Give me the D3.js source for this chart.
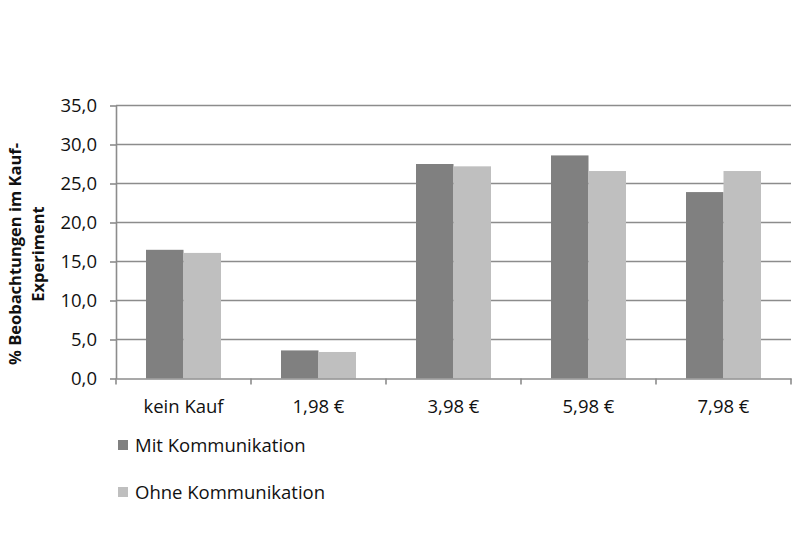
<!DOCTYPE html>
<html>
<head>
<meta charset="utf-8">
<script src="https://cdn.jsdelivr.net/npm/d3@7"></script>
<style>
  body { margin: 0; background: #fff; }
  svg text { font-family: "Open Sans", Lato, sans-serif; fill: #111; }
</style>
</head>
<body>
<div id="chart"></div>
<script>
(function () {
	// chart data
	var categories = ['kein Kauf', '1,98 €', '3,98 €', '5,98 €', '7,98 €'];
	var seriesNames = ['Mit Kommunikation', 'Ohne Kommunikation'];
	var mitValues = [16.5, 3.6, 27.5, 28.6, 23.9];
	var ohneValues = [16.1, 3.4, 27.2, 26.6, 26.6];
	var yTicks = [0, 5, 10, 15, 20, 25, 30, 35];

	var width = 800, height = 533;
	var margin = {left: 116, right: 9, top: 105.5, bottom: 154.5};
	var colors = ['#808080', '#bfbfbf'];
	var gridColor = '#8c8c8c';
	var font = '"Open Sans", Lato, sans-serif';

	var svg = d3.select('#chart').append('svg')
		.attr('width', width).attr('height', height);

	var x = d3.scaleBand()
		.domain(categories)
		.range([margin.left, width - margin.right])
		.paddingInner(0).paddingOuter(0);

	var x1 = d3.scaleBand()
		.domain(seriesNames)
		.range([30, x.bandwidth() - 30])
		.padding(0);

	var y = d3.scaleLinear()
		.domain([0, 35])
		.range([height - margin.bottom, margin.top]);

	var fmt = function (d) { return d3.format('.1f')(d).replace('.', ','); };

	// gridlines
	svg.append('g').selectAll('line')
		.data(yTicks.filter(d => d > 0)).enter().append('line')
		.attr('x1', margin.left).attr('x2', width - margin.right)
		.attr('y1', d => y(d)).attr('y2', d => y(d))
		.attr('stroke', gridColor).attr('stroke-width', 1.6);

	// bars
	var rows = categories.map((c, i) => ({cat: c, vals: [mitValues[i], ohneValues[i]]}));
	svg.append('g').selectAll('g')
		.data(rows).enter().append('g')
		.attr('transform', d => 'translate(' + x(d.cat) + ',0)')
		.selectAll('rect')
		.data(d => d.vals.map((v, j) => ({name: seriesNames[j], v: v, j: j})))
		.enter().append('rect')
		.attr('x', d => x1(d.name))
		.attr('width', x1.bandwidth())
		.attr('y', d => y(d.v))
		.attr('height', d => y(0) - y(d.v))
		.attr('fill', d => colors[d.j]);

	// y axis
	var yAxis = svg.append('g')
		.attr('transform', 'translate(' + margin.left + ',0)')
		.call(d3.axisLeft(y).tickValues(yTicks).tickFormat(fmt).tickSize(6).tickSizeOuter(0));
	yAxis.select('.domain').attr('stroke', gridColor).attr('stroke-width', 1.6);
	yAxis.selectAll('.tick line').attr('stroke', gridColor).attr('stroke-width', 1.6);
	yAxis.selectAll('.tick text')
		.attr('x', -19)
		.style('font-size', '18.5px')
		.style('font-family', font)
		.attr('fill', '#111');

	// x axis
	var xAxis = svg.append('g')
		.attr('transform', 'translate(0,' + y(0) + ')')
		.call(d3.axisBottom(x).tickSize(0).tickSizeOuter(0));
	xAxis.select('.domain').attr('stroke', gridColor).attr('stroke-width', 1.6);
	xAxis.selectAll('.tick text')
		.attr('y', 21)
		.style('font-size', '18.5px')
		.style('font-family', font)
		.attr('fill', '#111');
	// category separator ticks
	var bounds = categories.map(c => x(c)).concat([width - margin.right]);
	xAxis.selectAll('.sep')
		.data(bounds).enter().append('line')
		.attr('x1', d => d).attr('x2', d => d)
		.attr('y1', 0).attr('y2', 6)
		.attr('stroke', gridColor).attr('stroke-width', 1.6);

	// y axis title
	svg.append('text')
		.attr('transform', 'translate(21,' + 254 + ')rotate(-90)')
		.attr('text-anchor', 'middle')
		.style('font-size', '16.5px').style('font-weight', 'bold')
		.selectAll('tspan')
		.data(['% Beobachtungen im Kauf-', 'Experiment']).enter().append('tspan')
		.attr('x', 0).attr('dy', (d, i) => i === 0 ? 0 : 23)
		.text(d => d);

	// legend
	var legend = svg.append('g').selectAll('g')
		.data(seriesNames).enter().append('g')
		.attr('transform', (d, i) => 'translate(118,' + (445 + i * 47) + ')');
	legend.append('rect')
		.attr('x', 0).attr('y', -5).attr('width', 10).attr('height', 10)
		.attr('fill', (d, i) => colors[i]);
	legend.append('text')
		.attr('x', 17).attr('y', 6.5)
		.style('font-size', '18.5px')
		.text(d => d);
})();
</script>
</body>
</html>
